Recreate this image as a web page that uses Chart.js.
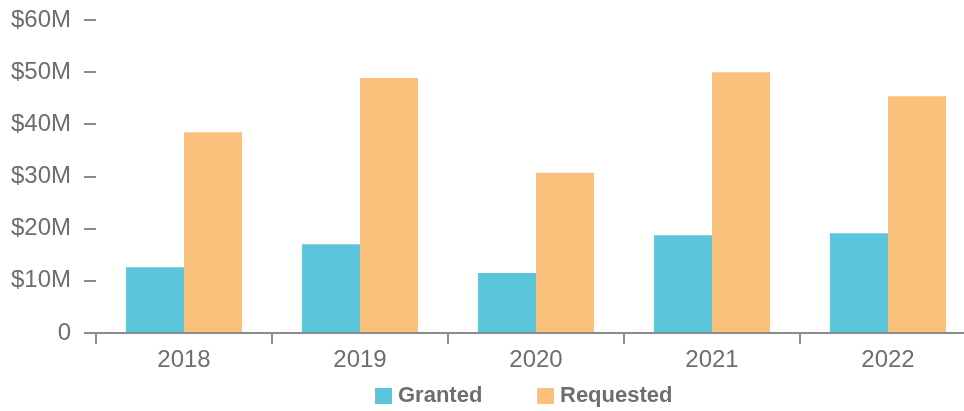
<!DOCTYPE html>
<html>
<head>
<meta charset="utf-8">
<script src="https://cdn.jsdelivr.net/npm/chart.js@4/dist/chart.umd.min.js"></script>
<style>
  html, body { margin: 0; padding: 0; background: #fff; overflow: hidden; }
  .wrap { position: relative; width: 964px; height: 411px; overflow: hidden; }
  .wrap canvas { position: absolute; left: 0; top: 0; }
  .legend { position: absolute; top: 383px; left: 0; width: 964px; height: 24px;
    font-family: "Liberation Sans", Arial, sans-serif; font-weight: bold; font-size: 22px; color: #6d6e71; }
  .legend span.item { position: absolute; top: 0; line-height: 24px; white-space: nowrap; }
  .legend i { display: inline-block; width: 17px; height: 16px; vertical-align: -2px; margin-right: 6px; }
</style>
</head>
<body>
<div class="wrap">
  <canvas id="grantChart" width="980" height="411" style="width:980px;height:411px"></canvas>
  <div class="legend" id="legend"></div>
</div>
<script>
// ===== DATA =====
const years = ['2018', '2019', '2020', '2021', '2022'];
const granted = [12.6, 17.0, 11.5, 18.75, 19.1];     // $M
const requested = [38.5, 48.9, 30.7, 50.0, 45.4];   // $M
const seriesNames = ['Granted', 'Requested'];
const seriesColors = ['#5bc6db', '#fbc07c'];

const textGray = '#6d6e71';
const axisGray = '#8c8c8e';

const canvas = document.getElementById('grantChart');
new Chart(canvas.getContext('2d'), {
  type: 'bar',
  data: {
    labels: years,
    datasets: [
      { label: seriesNames[0], data: granted, backgroundColor: seriesColors[0] },
      { label: seriesNames[1], data: requested, backgroundColor: seriesColors[1] }
    ]
  },
  options: {
    responsive: false,
    animation: false,
    categoryPercentage: 0.66,
    barPercentage: 1.0,
    layout: { padding: { top: 20, right: 4, bottom: 38, left: 0 } },
    plugins: { legend: { display: false }, tooltip: { enabled: false } },
    scales: {
      x: {
        afterFit: (s) => { s.height = 40; s.paddingLeft = 0; s.paddingRight = 0; },
        border: { display: true, color: axisGray, width: 2 },
        grid: { drawOnChartArea: false, drawTicks: true, tickLength: 11, color: axisGray, lineWidth: 2, offset: true },
        ticks: { color: textGray, padding: 2, font: { family: 'Liberation Sans', size: 24 } }
      },
      y: {
        min: 0,
        max: 60,
        afterFit: (s) => { s.width = 96; s.paddingTop = 0; s.paddingBottom = 0; },
        border: { display: false },
        grid: { drawOnChartArea: false, drawTicks: true, tickLength: 12, color: axisGray, lineWidth: 2 },
        ticks: {
          stepSize: 10,
          color: textGray,
          padding: 13,
          font: { family: 'Liberation Sans', size: 24 },
          callback: (v) => v === 0 ? '0' : '$' + v + 'M'
        }
      }
    }
  }
});

// ===== LEGEND =====
const legend = document.getElementById('legend');
const legendX = [375, 537];
seriesNames.forEach((name, i) => {
  const item = document.createElement('span');
  item.className = 'item';
  item.style.left = legendX[i] + 'px';
  item.innerHTML = '<i style="background:' + seriesColors[i] + '"></i>' + name;
  legend.appendChild(item);
});
</script>
</body>
</html>
